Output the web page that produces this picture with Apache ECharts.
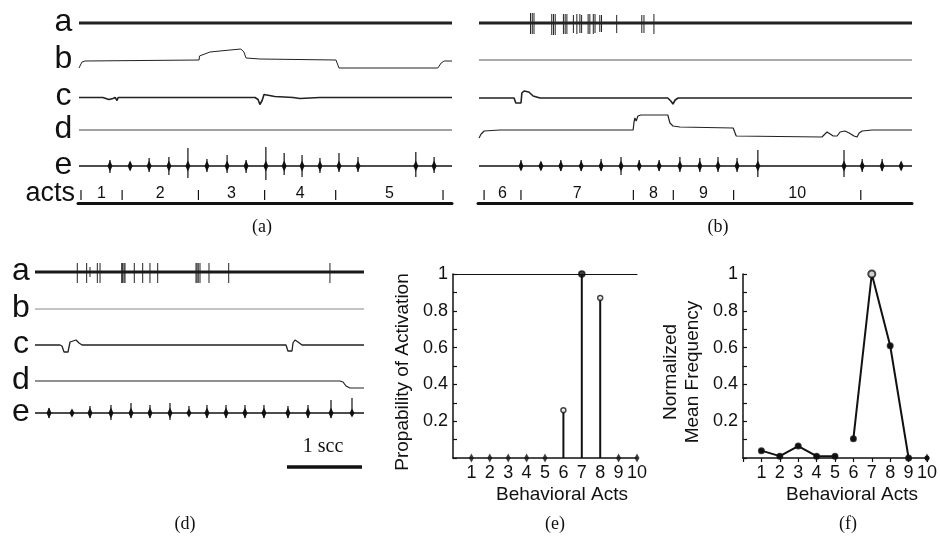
<!DOCTYPE html>
<html><head><meta charset="utf-8">
<script src="https://cdn.jsdelivr.net/npm/echarts@6/dist/echarts.min.js"></script>
<style>html,body{margin:0;padding:0;background:#fff}#c{width:940px;height:546px}</style>
</head><body><div id="c"></div>
<script>
// ================= DATA =================
const channelNames = ['a', 'b', 'c', 'd', 'e'];
// ---- panel (a): time in % of record; deflections in arbitrary units ----
const aSpikesA = [];
const aTraceB = [[0,-8],[0.27,-6],[0.8,-2],[1.6,-1],[32.2,0],[32.3,4],[32.4,2],[32.7,6],[35.1,8],[40.5,10],[43.4,11],[44.2,8],[44.8,2],[48.5,1],[68.9,0],[69.7,-8],[96.2,-8],[97.1,-3],[97.9,-1],[100,-1]];
const aTraceC = [[0,0],[6.4,0],[8.0,-2],[9.1,-1],[9.7,0],[10.2,-3],[10.5,0],[47.2,0],[48.0,-2],[48.5,-7],[49.1,-3],[49.6,3],[50.1,4],[52.5,1],[57.4,0],[59.2,-1],[64.6,0],[100,0]];
const aTraceD = [[0,0],[100,0]];
const aBurstsE = [[8.3,6,7],[13.7,4,4],[18.8,8,6],[24.1,9,9],[29.2,18,12],[34.3,7,6],[39.7,11,7],[44.8,6,7],[50.1,19,14],[55.0,13,9],[59.8,11,11],[64.6,8,7],[69.7,13,6],[74.8,9,6],[90.3,14,11],[95.2,9,7]];
const aActBounds = [0.8, 11.8, 32.2, 49.9, 68.9, 97.6];
const aActLabels = ['1', '2', '3', '4', '5'];
// ---- panel (b) ----
const bSpikesA = [[11.9,10,11],[12.3,10,11],[12.7,10,11],[16.8,9,12],[17.2,9,12],[17.6,9,12],[19.5,9,11],[19.9,9,11],[20.3,9,11],[21.8,8,10],[22.6,9,11],[23.3,9,10],[23.7,8,10],[25.2,9,11],[25.6,9,11],[26.4,9,11],[26.8,9,10],[27.9,8,9],[28.3,8,9],[31.8,8,10],[37.6,8,10],[38.1,8,10],[40.4,9,11]];
const bTraceB = [[0,0],[100,0]];
const bTraceC = [[0,0],[8.1,0],[8.5,-5],[9.7,-5],[9.9,5],[10.4,7],[11.5,6],[12.5,2],[14.1,0],[43.6,0],[44.3,-3],[44.8,-6],[45.3,-2],[46.0,0],[100,0]];
const bTraceD = [[0,-8],[0.5,-4],[1.2,-1],[4.8,0],[35.6,0],[35.8,8],[36.0,12],[36.3,9],[36.7,14],[37.4,15],[43.6,15],[44.1,7],[44.8,4],[46.4,3],[58.7,2],[58.9,0],[59.4,-6],[59.8,-7],[79.2,-7],[79.9,-4],[80.4,-2],[81.1,-4],[81.8,-6],[82.7,-6],[83.4,-2],[84.5,-1],[85.5,-3],[86.6,-6],[87.3,-7],[87.8,-3],[88.5,-1],[90.8,0],[91.0,1],[92.6,0],[100,0]];
const bBurstsE = [[9.7,6,4],[14.3,4,4],[18.9,6,5],[23.6,6,5],[28.2,7,5],[32.8,9,9],[37.0,6,4],[41.6,6,5],[46.4,9,6],[51.0,8,6],[55.2,9,6],[59.6,8,6],[64.4,16,11],[84.3,16,11],[88.5,7,6],[93.1,7,5],[97.5,4,4]];
const bActBounds = [1.4, 9.9, 35.8, 45.0, 58.9, 88.2];
const bActLabels = ['6', '7', '8', '9', '10'];
// ---- panel (d): time in seconds ----
const dDuration = 4.387;
const dSpikesA = [[0.564,9,11],[0.689,9,11],[0.733,5,5],[0.831,9,11],[0.867,9,11],[1.156,9,11],[1.169,9,11],[1.187,9,11],[1.2,9,11],[1.324,9,11],[1.436,9,11],[1.533,9,11],[1.636,9,11],[2.147,9,11],[2.16,9,11],[2.177,9,11],[2.2,9,11],[2.32,9,11],[2.583,9,11],[3.933,9,11]];
const dTraceB = [[0,0],[4.387,0]];
const dTraceC = [[0,0],[0.333,0],[0.36,-1],[0.387,-7],[0.44,-7],[0.453,-6],[0.467,3],[0.493,5],[0.547,5],[0.587,2],[0.627,0],[3.347,0],[3.373,-6],[3.427,-6],[3.44,2],[3.467,5],[3.507,3],[3.56,0],[4.387,0]];
const dTraceD = [[0,0],[4.067,0],[4.107,-1],[4.147,-5],[4.2,-7],[4.387,-7]];
const dBurstsE = [[0.187,5,5],[0.493,3,3],[0.733,7,5],[1.013,8,7],[1.28,10,5],[1.533,8,5],[1.8,10,7],[2.053,7,3],[2.293,8,5],[2.547,8,5],[2.8,8,5],[3.053,8,5],[3.373,7,5],[3.64,8,5],[3.947,13,5],[4.227,15,3]];
const scaleBarSec = [3.36, 4.36];
const scaleBarLabel = '1 scc';
// ---- panels (e) and (f) ----
const acts = [1, 2, 3, 4, 5, 6, 7, 8, 9, 10];
const probActivation = [0, 0, 0, 0, 0, 0.26, 1, 0.87, 0, 0];
const normMeanFreq = [0.04, 0.01, 0.065, 0.01, 0.01, 0.105, 1, 0.61, 0, 0];
const freqBreakAfter = [5, 9];
const captions = ['(a)', '(b)', '(d)', '(e)', '(f)'];

// ================= BUILD =================
const SANS = '"Liberation Sans", Arial, sans-serif';
const SERIF = '"Liberation Serif", "Times New Roman", serif';
const INK = '#111';
const grids = [], xAxes = [], yAxes = [], series = [], graphics = [];

function addGrid(left, top, width, height, xOpt, yOpt) {
  grids.push({left, top, width, height, outerBoundsMode: 'none', containLabel: false});
  const gi = grids.length - 1;
  xAxes.push(Object.assign({gridIndex: gi, type: 'value', show: false, splitLine: {show: false}}, xOpt || {}));
  yAxes.push(Object.assign({gridIndex: gi, type: 'value', show: false, splitLine: {show: false}}, yOpt || {}));
  return {gi, xi: xAxes.length - 1, yi: yAxes.length - 1};
}

function renderSpike(params, api) {
  const t = api.value(0), up = api.value(1), dn = api.value(2);
  const p1 = api.coord([t, up]), p2 = api.coord([t, -dn]);
  return {type: 'line', shape: {x1: p1[0], y1: p1[1], x2: p2[0], y2: p2[1]}, style: {stroke: '#222', lineWidth: 1}};
}
function renderBurst(params, api) {
  const t = api.value(0), up = api.value(1), dn = api.value(2);
  const c = api.coord([t, 0]), p1 = api.coord([t, up]), p2 = api.coord([t, -dn]);
  const h = Math.min(5.5, Math.min(up, dn) + 1.5), w = 2.5;
  return {type: 'group', children: [
    {type: 'line', shape: {x1: c[0], y1: p1[1], x2: c[0], y2: p2[1]}, style: {stroke: INK, lineWidth: 1.2}},
    {type: 'polygon', shape: {points: [[c[0], c[1] - h], [c[0] + w, c[1]], [c[0], c[1] + h], [c[0] - w, c[1]]]}, style: {fill: INK}}
  ]};
}
function makeActsRenderer(labels) {
  return function (params, api) {
    const s = api.value(0), e = api.value(1);
    const ps = api.coord([s, 0]), pe = api.coord([e, 0]);
    const ch = [
      {type: 'line', shape: {x1: ps[0], y1: ps[1] - 3, x2: ps[0], y2: ps[1] - 13}, style: {stroke: INK, lineWidth: 1.2}},
      {type: 'text', style: {text: labels[params.dataIndex], x: (ps[0] + pe[0]) / 2, y: ps[1] - 9, align: 'center', verticalAlign: 'middle', font: '16px ' + SANS, fill: INK}}
    ];
    if (params.dataIndex === params.dataInsideLength - 1)
      ch.push({type: 'line', shape: {x1: pe[0], y1: pe[1] - 3, x2: pe[0], y2: pe[1] - 13}, style: {stroke: INK, lineWidth: 1.2}});
    return {type: 'group', children: ch};
  };
}

function lineSeries(ax, data, width, color) {
  series.push({type: 'line', xAxisIndex: ax.xi, yAxisIndex: ax.yi, data, showSymbol: false, symbol: 'none',
    lineStyle: {width, color}, silent: true, animation: false});
}
function customSeries(ax, data, renderItem) {
  series.push({type: 'custom', xAxisIndex: ax.xi, yAxisIndex: ax.yi, data, renderItem, encode: {x: 0, y: 1}, silent: true, animation: false});
}

const tracePanels = [
  {left: 79, width: 373, T: 100, rows: [23, 60, 97.5, 130, 166], letters: true, letterX: 63.5,
   spikes: aSpikesA, b: aTraceB, c: aTraceC, d: aTraceD, e: aBurstsE, acts: aActBounds, actLabels: aActLabels, actsY: 203,
   styles: {a: [2.8, '#222'], b: [1, '#222'], c: [1.6, '#222'], d: [1, '#444'], e: [1.6, INK]}},
  {left: 479, width: 433, T: 100, rows: [23, 60, 98, 130, 166], letters: false,
   spikes: bSpikesA, b: bTraceB, c: bTraceC, d: bTraceD, e: bBurstsE, acts: bActBounds, actLabels: bActLabels, actsY: 203,
   styles: {a: [2.8, '#222'], b: [1, '#555'], c: [1.6, '#222'], d: [1.2, '#222'], e: [1.6, INK]}},
  {left: 35, width: 329, T: dDuration, rows: [272, 309, 345, 381, 413], letters: true, letterX: 21,
   spikes: dSpikesA, b: dTraceB, c: dTraceC, d: dTraceD, e: dBurstsE, scaleBar: scaleBarSec, scaleY: 467,
   styles: {a: [3, '#1a1a1a'], b: [1, '#888'], c: [1.3, '#222'], d: [1.2, '#222'], e: [1.6, INK]}}
];

tracePanels.forEach(p => {
  channelNames.forEach((ch, k) => {
    const y0 = p.rows[k];
    const ax = addGrid(p.left, y0 - 20, p.width, 40, {min: 0, max: p.T}, {min: -20, max: 20});
    const st = p.styles[ch];
    if (ch === 'a') {
      lineSeries(ax, [[0, 0], [p.T, 0]], st[0], st[1]);
      customSeries(ax, p.spikes, renderSpike);
    } else if (ch === 'e') {
      lineSeries(ax, [[0, 0], [p.T, 0]], st[0], st[1]);
      customSeries(ax, p.e, renderBurst);
    } else {
      lineSeries(ax, p[ch], st[0], st[1]);
    }
    if (p.letters) {
      graphics.push({type: 'text', x: p.letterX, y: y0 - 1,
        style: {text: ch, font: '32px ' + SANS, fill: INK, align: 'center', verticalAlign: 'middle'}});
    }
  });
  if (p.acts) {
    const ax = addGrid(p.left - 1, p.actsY - 20, p.width + 1, 20,
      {min: 0, max: p.T, show: true, axisLine: {show: true, onZero: false, lineStyle: {color: INK, width: 3}},
       axisTick: {show: false}, axisLabel: {show: false}},
      {min: 0, max: 1});
    const actData = p.acts.slice(0, -1).map((s, i) => [s, p.acts[i + 1]]);
    customSeries(ax, actData, makeActsRenderer(p.actLabels));
  }
  if (p.scaleBar) {
    const ax = addGrid(p.left, p.scaleY - 10, p.width, 20, {min: 0, max: p.T}, {min: -1, max: 1});
    series.push({type: 'line', xAxisIndex: ax.xi, yAxisIndex: ax.yi, data: p.scaleBar.map(t => [t, 0]),
      showSymbol: false, symbol: 'none', lineStyle: {width: 3.5, color: INK}, animation: false});
    graphics.push({type: 'text', x: 323, y: 447,
      style: {text: scaleBarLabel, font: '20px ' + SERIF, fill: INK, align: 'center', verticalAlign: 'middle'}});
  }
});
graphics.push({type: 'text', x: 75, y: 194,
  style: {text: 'acts', font: '27px ' + SANS, fill: INK, align: 'right', verticalAlign: 'middle'}});

// ---- (e) and (f) ----
function yLabelFmt(v) {
  const k = Math.round(v * 10);
  if (k === 0 || k % 2 !== 0) return '';
  return k === 10 ? '1' : (k / 10).toFixed(1);
}
function statAxes(left, xTicks, yName, extraTop) {
  const ax = addGrid(left, 274, 184, 184,
    {show: true, min: 0, max: 10, interval: 1,
     axisLine: {show: true, onZero: false, lineStyle: {color: INK, width: 1.5}},
     axisTick: {show: xTicks, length: 4, lineStyle: {color: INK, width: 1.2}},
     axisLabel: {show: true, margin: 6, color: INK, fontSize: 18, fontFamily: SANS, formatter: v => v === 0 ? '' : String(v)},
     name: 'Behavioral Acts', nameLocation: 'middle', nameGap: 27,
     nameTextStyle: {color: INK, fontSize: 19, fontFamily: SANS, padding: [0, 0, 0, 34]}},
    {show: true, min: 0, max: 1, interval: 0.1,
     axisLine: {show: true, onZero: false, lineStyle: {color: INK, width: 1.5}},
     axisTick: {show: true, inside: true, length: 4, lineStyle: {color: INK, width: 1.2}},
     axisLabel: {show: true, margin: 5, color: INK, fontSize: 18, fontFamily: SANS, formatter: yLabelFmt},
     name: yName, nameLocation: 'middle', nameGap: 39, nameRotate: 90,
     nameTextStyle: {color: INK, fontSize: 19, fontFamily: SANS, lineHeight: 22, padding: [0, 12, 0, 0]}});
  if (extraTop) {
    xAxes.push({gridIndex: ax.gi, type: 'value', position: 'top', min: 0, max: 10, show: true,
      axisLine: {show: true, onZero: false, lineStyle: {color: INK, width: 1.2}}, axisTick: {show: false},
      axisLabel: {show: false}, splitLine: {show: false}});
  }
  return ax;
}

const axE = statAxes(453, false, 'Propability of Activation', true);
customSeries(axE, acts.map((a, i) => [a, probActivation[i]]), function (params, api) {
  const x = api.value(0), v = api.value(1);
  if (!(v > 0)) return null;
  const p0 = api.coord([x, 0]), p1 = api.coord([x, v]);
  return {type: 'line', shape: {x1: p0[0], y1: p0[1], x2: p1[0], y2: p1[1]}, style: {stroke: INK, lineWidth: 2}};
});
series.push({type: 'scatter', xAxisIndex: axE.xi, yAxisIndex: axE.yi, animation: false, silent: true, z: 5,
  data: acts.map((a, i) => {
    const v = probActivation[i];
    if (v === 0) return {value: [a, v], symbol: 'diamond', symbolSize: [5, 9], itemStyle: {color: INK}};
    const isMax = v === Math.max.apply(null, probActivation);
    return {value: [a, v], symbol: 'circle', symbolSize: isMax ? 6 : 5,
      itemStyle: {color: isMax ? INK : '#fff', borderColor: INK, borderWidth: 1.5}};
  })});

const axF = statAxes(743, true, 'Normalized\nMean Frequency', false);
const fLine = [];
acts.forEach((a, i) => {
  fLine.push([a, normMeanFreq[i]]);
  if (freqBreakAfter.indexOf(a) >= 0) fLine.push([a + 0.5, null]);
});
series.push({type: 'line', xAxisIndex: axF.xi, yAxisIndex: axF.yi, data: fLine, connectNulls: false,
  animation: false, silent: true, lineStyle: {color: INK, width: 2},
  symbol: 'circle', symbolSize: 5, itemStyle: {color: INK}, showSymbol: true});
series.push({type: 'scatter', xAxisIndex: axF.xi, yAxisIndex: axF.yi, animation: false, silent: true, z: 5,
  data: acts.map((a, i) => {
    const v = normMeanFreq[i];
    const isMax = v === Math.max.apply(null, normMeanFreq);
    if (a > freqBreakAfter[freqBreakAfter.length - 1]) return {value: [a, v], symbol: 'diamond', symbolSize: [5, 9], itemStyle: {color: INK}};
    return {value: [a, v], symbol: 'circle', symbolSize: isMax ? 7 : 5,
      itemStyle: {color: isMax ? '#fff' : INK, borderColor: INK, borderWidth: 2}};
  })});

// ---- captions ----
const capPos = [[262, 227], [718, 227], [185, 524], [555, 524], [848, 524]];
captions.forEach((c, i) => graphics.push({type: 'text', x: capPos[i][0], y: capPos[i][1],
  style: {text: c, font: '18px ' + SERIF, fill: INK, align: 'center', verticalAlign: 'middle'}}));

const chart = echarts.init(document.getElementById('c'), null, {renderer: 'canvas'});
chart.setOption({
  backgroundColor: '#fff',
  animation: false,
  grid: grids, xAxis: xAxes, yAxis: yAxes, series,
  graphic: {elements: graphics}
});
</script></body></html>
